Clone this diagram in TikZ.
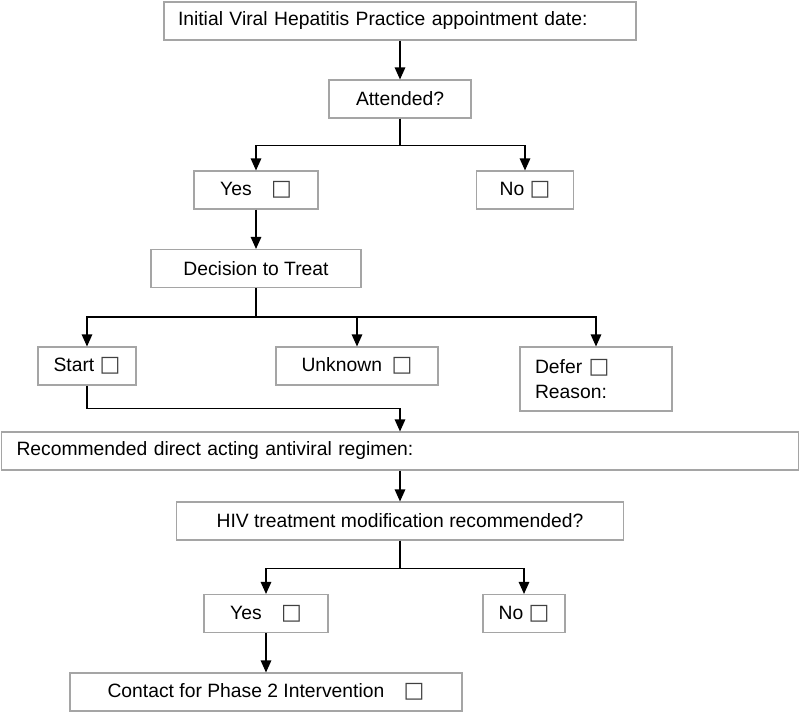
\documentclass[tikz,border=0pt]{standalone}
\usepackage{fontspec}
\setmainfont{Liberation Sans}
\newfontfamily\symfont{DejaVu Sans}
\usetikzlibrary{arrows.meta}

% empty tick box after a choice
\newcommand{\chkbox}{{\symfont\fontsize{22}{22}\selectfont\color{darkgray}□}}

\begin{document}
\begin{tikzpicture}[x=1pt, y=-1pt,
    box/.style={draw=boxgray, line width=1.1pt, minimum height=38pt, inner sep=0pt,
      font=\fontsize{19.3}{24.5}\selectfont},
    arr/.style={line width=1.3pt, -{Triangle[length=12pt, width=10.5pt]}}]
  % Define colors
  \definecolor{boxgray}{RGB}{165, 165, 165}

  \useasboundingbox (0, 0) rectangle (800, 712);

  % Appointment and attendance
  \node[box, text width=444pt, inner xsep=14pt, align=left] (init) at (400, 21)
    {Initial Viral Hepatitis Practice appointment date:};
  \node[box, minimum width=142pt] (attend) at (400, 99) {Attended?};
  \node[box, minimum width=124pt] (yesA) at (256, 190) {Yes\quad\chkbox};
  \node[box, minimum width=97pt] (noA) at (525, 190) {No \chkbox};

  % Treatment decision
  \node[box, minimum width=210pt] (decide) at (256, 268.5) {Decision to Treat};
  \node[box, minimum width=98pt] (start) at (87, 366) {Start \chkbox};
  \node[box, minimum width=162pt] (unknown) at (357, 366) {Unknown\enspace\chkbox};
  \node[box, minimum height=64pt, text width=122pt, inner xsep=15pt, align=left]
    (defer) at (596, 379) {Defer \chkbox\\Reason:};

  % Regimen and HIV treatment
  \node[box, text width=767pt, inner xsep=15pt, align=left] (regimen) at (400, 451)
    {Recommended direct acting antiviral regimen:};
  \node[box, minimum width=447pt] (hiv) at (400, 521)
    {HIV treatment modification recommended?};
  \node[box, minimum width=124pt] (yesB) at (266, 613.5) {Yes\quad\chkbox};
  \node[box, minimum width=82pt] (noB) at (524, 613.5) {No \chkbox};
  \node[box, minimum width=392pt] (contact) at (266, 692)
    {Contact for Phase 2 Intervention\quad\chkbox};

  % Connectors
  \draw[arr] (init.south) -- (attend.north);
  \draw[arr] (attend.south) -- ++(0, 27) -| (yesA.north);
  \draw[arr] (attend.south) -- ++(0, 27) -| (noA.north);
  \draw[arr] (yesA.south) -- (decide.north);
  \draw[arr] (decide.south) -- ++(0, 29) -| (start.north);
  \draw[arr] (decide.south) -- ++(0, 29) -| (unknown.north);
  \draw[arr] (decide.south) -- ++(0, 29) -| (defer.north);
  \draw[arr] (start.south) -- ++(0, 23) -| (regimen.north);
  \draw[arr] (regimen.south) -- (hiv.north);
  \draw[arr] (hiv.south) -- ++(0, 28) -| (yesB.north);
  \draw[arr] (hiv.south) -- ++(0, 28) -| (noB.north);
  \draw[arr] (yesB.south) -- (contact.north);
\end{tikzpicture}
\end{document}
